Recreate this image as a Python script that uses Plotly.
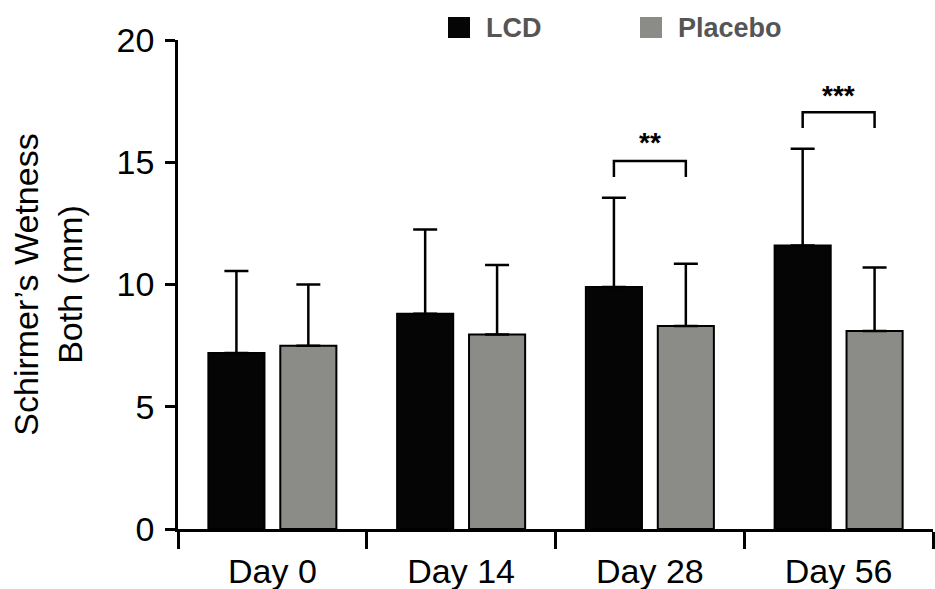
import plotly.graph_objects as go

days = ["Day 0", "Day 14", "Day 28", "Day 56"]
lcd_mean = [7.2, 8.8, 9.9, 11.6]
lcd_top = [10.55, 12.25, 13.55, 15.55]
placebo_mean = [7.5, 7.95, 8.3, 8.1]
placebo_top = [10.0, 10.8, 10.85, 10.7]
sig_day_index = [2, 3]
sig_labels = ["**", "***"]
sig_bracket_y = [15.05, 17.05]
sig_leg_y = [14.4, 16.4]
sig_text_y = [15.8, 17.75]

BLACK = "#050505"
GRAY = "#8b8b87"
FONT = "Liberation Sans, Arial, Helvetica, sans-serif"
BARGAP = 0.238
off = (1 - BARGAP) / 4

fig = go.Figure()
fig.add_trace(go.Bar(
    x=days, y=lcd_mean, name="LCD",
    marker=dict(color=BLACK, line=dict(color="black", width=2)),
    error_y=dict(type="data", symmetric=False,
                 array=[t - m for t, m in zip(lcd_top, lcd_mean)],
                 arrayminus=[0] * len(lcd_mean),
                 color="black", thickness=2.5, width=12),
))
fig.add_trace(go.Bar(
    x=days, y=placebo_mean, name="Placebo",
    marker=dict(color=GRAY, line=dict(color="black", width=2)),
    error_y=dict(type="data", symmetric=False,
                 array=[t - m for t, m in zip(placebo_top, placebo_mean)],
                 arrayminus=[0] * len(placebo_mean),
                 color="black", thickness=2.5, width=12),
))

shapes = []
annotations = []
for i, lab, by, ly, ty in zip(sig_day_index, sig_labels, sig_bracket_y, sig_leg_y, sig_text_y):
    x0, x1 = i - off, i + off
    shapes.append(dict(type="path", xref="x", yref="y",
                       path=f"M {x0},{ly} L {x0},{by} L {x1},{by} L {x1},{ly}",
                       line=dict(color="black", width=2.5)))
    annotations.append(dict(x=i, y=ty, xref="x", yref="y", text=f"<b>{lab}</b>", showarrow=False,
                            font=dict(size=28, color="black", family=FONT),
                            yanchor="middle"))

fig.update_layout(
    width=935, height=589,
    margin=dict(l=178, r=2, t=40, b=60),
    paper_bgcolor="white", plot_bgcolor="white",
    barmode="group", bargap=BARGAP, bargroupgap=0.22,
    showlegend=False,
    font=dict(family=FONT, color="black"),
    xaxis=dict(showline=True, linecolor="black", linewidth=2.5,
               ticks="outside", tickson="boundaries", ticklen=17, tickwidth=2.5,
               tickcolor="black", tickfont=dict(size=34, family=FONT),
               ticklabelstandoff=10, automargin=False,
               showgrid=False, zeroline=False),
    yaxis=dict(range=[0, 20], tickvals=[0, 5, 10, 15, 20], showline=True,
               linecolor="black", linewidth=2.5, ticks="outside", ticklen=10,
               tickwidth=2.5, tickcolor="black",
               tickfont=dict(size=34, family=FONT),
               ticklabelstandoff=4, automargin=False,
               showgrid=False, zeroline=False,
               title=dict(text="Schirmer\u2019s Wetness<br>Both (mm)",
                          font=dict(size=34, family=FONT),
                          standoff=24)),
)

# legend squares and labels in pixel-consistent paper coords
W = 935 - 178 - 2
H = 589 - 40 - 60
def px(xpix):
    return (xpix - 178) / W
def py(ypix):
    return (589 - 60 - ypix) / H

leg = [("LCD", BLACK, 448), ("Placebo", GRAY, 640)]
for name, col, xl in leg:
    shapes.append(dict(type="rect", xref="paper", yref="paper",
                       x0=px(xl), x1=px(xl + 22), y0=py(38), y1=py(17),
                       fillcolor=col, line=dict(width=0)))
    annotations.append(dict(xref="paper", yref="paper", x=px(xl + 36), y=py(28),
                            text=f"<b>{name}</b>", showarrow=False,
                            xanchor="left", yanchor="middle",
                            font=dict(size=27, color="#555555", family=FONT)))

fig.update_layout(shapes=shapes, annotations=annotations)
fig.write_html("out.html")
